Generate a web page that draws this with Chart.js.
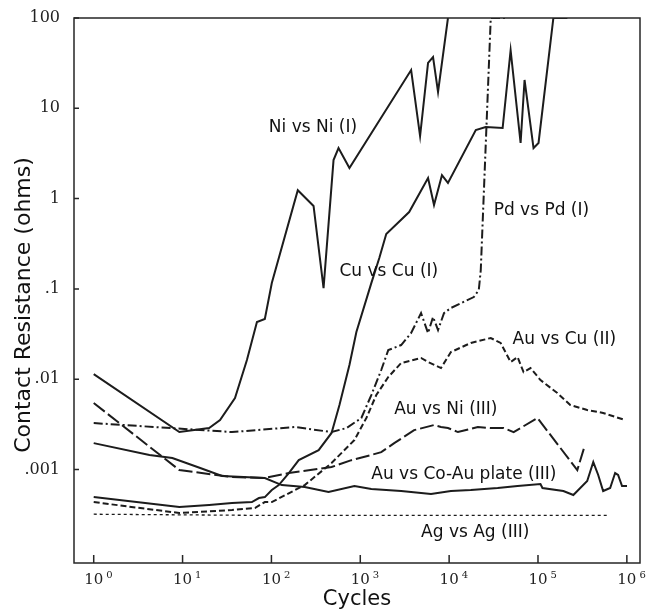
<!DOCTYPE html>
<html>
<head>
<meta charset="utf-8">
<script src="https://cdn.jsdelivr.net/npm/chart.js@4.4.0/dist/chart.umd.min.js"></script>
<style>
  html, body { margin: 0; padding: 0; background: #fff; }
  canvas { display: block; }
</style>
</head>
<body>
<canvas id="wearChart" width="649" height="612"></canvas>
<script>
// Decade ticks on both axes
const cycleTicks = [1, 10, 100, 1000, 10000, 100000, 1000000];
const cycleExponents = ['0', '1', '2', '3', '4', '5', '6'];
const ohmTicks = [0.001, 0.01, 0.1, 1, 10, 100];
const ohmTickLabels = ['.001', '.01', '.1', '1', '10', '100'];

// Ni vs Ni (I)
const niCycles = [1, 9.2, 19.9, 26.4, 38.9, 53, 68.7, 84.3, 101, 198, 298, 386, 500, 569, 755, 3735, 4710, 5790, 6590, 7500, 9700];
const niOhms = [0.0114, 0.0026, 0.00288, 0.00353, 0.0062, 0.0163, 0.043, 0.0465, 0.116, 1.24, 0.83, 0.102, 2.67, 3.63, 2.18, 26.5, 4.93, 31.8, 37, 15.2, 100];

// Cu vs Cu (I)
const cuCycles = [1, 9.2, 19.9, 36, 60.3, 72.3, 84.3, 101, 121, 157, 203, 340, 475, 583, 755, 904, 1331, 1637, 1960, 3548, 5790, 6760, 8300, 9700, 19950, 25800, 40000, 49200, 63700, 70600, 89100, 101400, 149000, 214000];
const cuOhms = [0.000495, 0.000385, 0.000405, 0.000425, 0.000436, 0.000483, 0.000495, 0.000593, 0.000673, 0.000914, 0.00127, 0.00164, 0.00254, 0.00518, 0.01435, 0.0333, 0.116, 0.22, 0.405, 0.71, 1.69, 0.85, 1.82, 1.49, 5.75, 6.2, 6.05, 44, 4.13, 20.6, 3.63, 4.13, 100, 100];

// Pd vs Pd (I)
const pdCycles = [1, 36, 183, 475, 699, 1028, 1331, 1722, 2064, 2884, 3735, 4830, 5790, 6590, 7500, 8750, 10470, 18960, 21570, 22700, 29400, 43200];
const pdOhms = [0.00327, 0.0026, 0.00296, 0.0026, 0.00288, 0.00372, 0.00668, 0.01265, 0.021, 0.0239, 0.0325, 0.054, 0.0325, 0.0489, 0.035, 0.054, 0.0615, 0.0813, 0.0973, 0.162, 100, 100];

// Au vs Cu (II)
const auCuCycles = [1, 9.2, 36, 65.2, 84.3, 101, 237, 475, 859, 1170, 1514, 2064, 2884, 4830, 5790, 8090, 10470, 17540, 29400, 38000, 49200, 58900, 68800, 82400, 106600, 165000, 231000, 358000, 541000, 955000];
const auCuOhms = [0.000436, 0.00033, 0.000356, 0.000375, 0.000436, 0.000436, 0.000673, 0.00118, 0.00212, 0.00372, 0.00668, 0.01057, 0.0151, 0.0172, 0.0155, 0.0133, 0.02, 0.0252, 0.0286, 0.0252, 0.0155, 0.0176, 0.012, 0.0133, 0.0098, 0.00703, 0.00518, 0.00456, 0.00423, 0.00353];

// Au vs Ni (III)
const auNiCycles = [1, 9.2, 36, 84.3, 157, 475, 795, 1331, 1722, 2410, 4035, 6760, 8090, 9700, 12560, 21030, 29400, 41100, 53200, 98700, 277000, 332000];
const auNiOhms = [0.00545, 0.000986, 0.000826, 0.000806, 0.000914, 0.001066, 0.00127, 0.00145, 0.00156, 0.00196, 0.00273, 0.00311, 0.00296, 0.00288, 0.0026, 0.00296, 0.00288, 0.00288, 0.0026, 0.00372, 0.000986, 0.00177];

// Au vs Co-Au plate (III)
const coAuCycles = [1, 4.24, 7.67, 15.8, 27.8, 84.3, 131, 237, 439, 859, 1331, 2884, 6250, 10470, 17540, 35200, 58900, 106600, 112300, 193000, 250000, 358000, 419000, 476000, 541000, 649000, 738000, 797000, 883000, 1004000];
const coAuOhms = [0.00196, 0.00145, 0.00134, 0.00104, 0.000848, 0.000806, 0.000673, 0.00064, 0.000564, 0.000656, 0.000608, 0.000578, 0.000536, 0.000578, 0.000593, 0.000624, 0.000656, 0.00069, 0.000624, 0.000578, 0.000522, 0.000745, 0.00121, 0.00087, 0.000578, 0.000624, 0.000914, 0.00087, 0.000656, 0.000656];

// Ag vs Ag (III)
const agCycles = [1, 100, 10000, 600000];
const agOhms = [0.00032, 0.00031, 0.00031, 0.00031];

// Curve captions, anchored at their left/middle point in data units
const captionTexts = ['Ni vs Ni (I)', 'Cu vs Cu (I)', 'Pd vs Pd (I)', 'Au vs Cu (II)', 'Au vs Ni (III)', 'Au vs Co-Au plate (III)', 'Ag vs Ag (III)'];
const captionCycles = [93.5, 583, 31700, 51800, 2410, 1331, 4830];
const captionOhms = [6.05, 0.154, 0.73, 0.0272, 0.00456, 0.00089, 0.000198];

const INK = '#1c1c1c';

function toPoints(xs, ys) {
    return xs.map((x, i) => ({ x: x, y: ys[i] }));
}

function series(label, xs, ys, dash, width) {
    return {
        label: label,
        data: toPoints(xs, ys),
        borderColor: INK,
        borderWidth: width || 2,
        borderDash: dash || [],
        pointRadius: 0,
        tension: 0,
        fill: false
    };
}

/**
 * Frame, inward ticks, power-of-ten labels, axis titles and curve captions
 */
const decorations = {
    id: 'decorations',
    afterDraw(chart) {
        const ctx = chart.ctx;
        const a = chart.chartArea;
        const xs = chart.scales.x;
        const ys = chart.scales.y;
        ctx.save();

        ctx.strokeStyle = '#262626';
        ctx.lineWidth = 1.5;
        ctx.strokeRect(a.left, a.top, a.right - a.left, a.bottom - a.top);

        ctx.beginPath();
        ohmTicks.forEach(v => {
            const py = ys.getPixelForValue(v);
            ctx.moveTo(a.left, py);
            ctx.lineTo(a.left + 5, py);
        });
        cycleTicks.forEach(v => {
            const px = xs.getPixelForValue(v);
            ctx.moveTo(px, a.bottom);
            ctx.lineTo(px, a.bottom - 8);
        });
        ctx.stroke();

        // 10^n labels under the x axis
        ctx.fillStyle = '#222';
        ctx.textBaseline = 'alphabetic';
        cycleTicks.forEach((v, i) => {
            const px = xs.getPixelForValue(v);
            ctx.font = '15px "DejaVu Serif"';
            ctx.textAlign = 'center';
            ctx.fillText('10', px, a.bottom + 21);
            const w = ctx.measureText('10').width;
            ctx.font = '10px "DejaVu Serif"';
            ctx.textAlign = 'left';
            ctx.fillText(cycleExponents[i], px + w / 2 + 3, a.bottom + 15);
        });

        // axis titles
        ctx.fillStyle = '#111';
        ctx.textAlign = 'center';
        ctx.textBaseline = 'middle';
        ctx.font = '21px "DejaVu Sans"';
        ctx.fillText('Cycles', (a.left + a.right) / 2, a.bottom + 37);
        ctx.save();
        ctx.translate(24, 305);
        ctx.rotate(-Math.PI / 2);
        ctx.font = '22px "DejaVu Sans"';
        ctx.fillText('Contact Resistance (ohms)', 0, 0);
        ctx.restore();

        // curve captions
        ctx.textAlign = 'left';
        ctx.font = '17px "DejaVu Sans"';
        captionTexts.forEach((t, i) => {
            ctx.fillText(t, xs.getPixelForValue(captionCycles[i]), ys.getPixelForValue(captionOhms[i]));
        });

        ctx.restore();
    }
};

const ctx = document.getElementById('wearChart').getContext('2d');

new Chart(ctx, {
    type: 'line',
    data: {
        datasets: [
            series('Ni vs Ni (I)', niCycles, niOhms),
            series('Cu vs Cu (I)', cuCycles, cuOhms),
            series('Pd vs Pd (I)', pdCycles, pdOhms, [9, 3, 2, 3]),
            series('Au vs Cu (II)', auCuCycles, auCuOhms, [6, 3]),
            series('Au vs Ni (III)', auNiCycles, auNiOhms, [14, 4]),
            series('Au vs Co-Au plate (III)', coAuCycles, coAuOhms),
            series('Ag vs Ag (III)', agCycles, agOhms, [3, 3], 1.3)
        ]
    },
    options: {
        responsive: false,
        animation: false,
        devicePixelRatio: 1,
        layout: {
            padding: { top: 18, right: 9, left: 0, bottom: 0 }
        },
        plugins: {
            legend: { display: false },
            tooltip: { enabled: false }
        },
        scales: {
            x: {
                type: 'logarithmic',
                min: Math.pow(10, -0.19),
                max: Math.pow(10, 6.148),
                grid: { display: false },
                border: { display: false },
                ticks: { display: false },
                afterFit: function(scale) { scale.height = 49; }
            },
            y: {
                type: 'logarithmic',
                min: Math.pow(10, -4.035),
                max: 100,
                grid: { display: false },
                border: { display: false },
                afterBuildTicks: function(scale) {
                    scale.ticks = ohmTicks.map(v => ({ value: v }));
                },
                ticks: {
                    autoSkip: false,
                    padding: 6,
                    color: '#222',
                    font: { family: '"DejaVu Serif"', size: 16 },
                    callback: function(value, index) {
                        return ohmTickLabels[index];
                    }
                },
                afterFit: function(scale) { scale.width = 74; }
            }
        }
    },
    plugins: [decorations]
});
</script>
</body>
</html>
